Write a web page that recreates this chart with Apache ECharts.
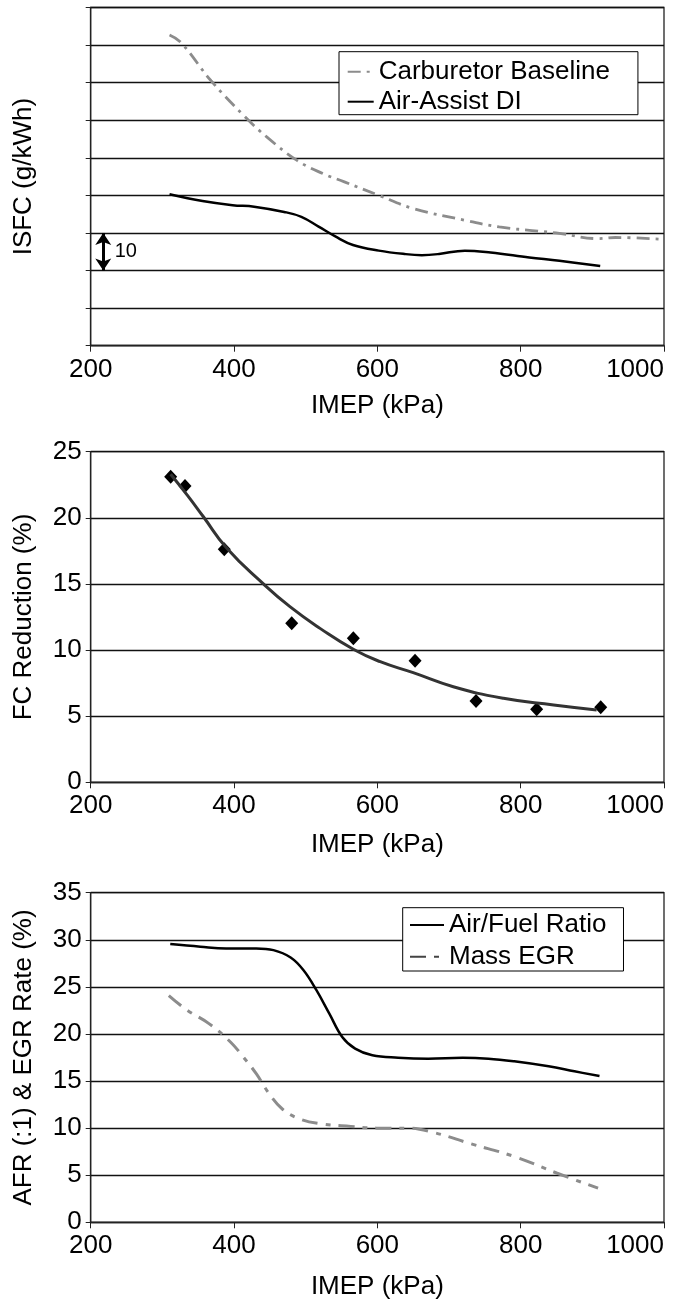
<!DOCTYPE html>
<html><head><meta charset="utf-8">
<script src="https://cdn.jsdelivr.net/npm/echarts@6/dist/echarts.min.js"></script>
<style>html,body{margin:0;padding:0;background:#fff}#c{width:673px;height:1301px}</style>
</head><body><div id="c"></div>
<script>
// ---- data ----
const imepTicks = [200, 400, 600, 800, 1000];

// Chart 1: ISFC (relative scale, one gridline = 10 g/kWh)
const carbImep = [310, 326, 368, 416, 446, 488, 524, 554, 602, 650, 722, 770, 824, 854, 908, 932, 1000];
const carbIsfc = [82.7, 80.7, 70.5, 60.8, 55.5, 49.3, 45.8, 43.6, 40.0, 36.5, 33.4, 31.6, 30.5, 29.9, 28.5, 28.8, 28.3];
const diImep = [310, 356, 398, 428, 470, 494, 518, 542, 566, 602, 638, 662, 686, 722, 758, 812, 854, 911];
const diIsfc = [40.3, 38.5, 37.4, 37.0, 35.6, 34.3, 31.7, 29.0, 26.8, 25.3, 24.4, 24.1, 24.4, 25.3, 24.8, 23.5, 22.6, 21.2];

// Chart 2: FC reduction (measured points and trend curve)
const fcImep = [311.6, 331.6, 386.4, 480.5, 566.5, 652.6, 737.7, 822.3, 911.7];
const fcRed = [23.1, 22.41, 17.62, 12.02, 10.89, 9.2, 6.15, 5.52, 5.67];
const trendImep = [311.6, 335, 357, 390, 441, 478, 520, 566.5, 604, 650, 706, 776, 846, 906];
const trendRed = [23.3, 21.7, 20.1, 17.7, 15.0, 13.28, 11.64, 10.06, 9.12, 8.29, 7.23, 6.35, 5.85, 5.47];

// Chart 3: AFR and EGR
const afrImep = [311, 353, 389, 431, 455, 479, 497, 515, 533, 551, 569, 593, 629, 671, 719, 755, 791, 839, 875, 910];
const afrVal = [29.54, 29.26, 29.08, 29.08, 28.9, 28.12, 26.77, 24.65, 22.16, 19.68, 18.44, 17.73, 17.48, 17.38, 17.48, 17.38, 17.09, 16.56, 16.03, 15.53];
const egrImep = [309, 335, 365, 395, 413, 431, 449, 467, 491, 521, 563, 599, 641, 677, 731, 791, 851, 908];
const egrVal = [24.08, 22.5, 21.1, 19.15, 17.55, 15.78, 13.65, 12.06, 11.0, 10.46, 10.18, 10.0, 10.0, 9.57, 8.33, 6.99, 5.21, 3.62];

// ---- chart ----
const pair = (xs, ys) => xs.map((x, i) => [x, ys[i]]);
const FONT = 'Liberation Sans, Arial, sans-serif';
const GRID_L = 90.7, GRID_W = 573.3;
const grids = [
  {left: GRID_L, top: 7.5, width: GRID_W, height: 338.2},
  {left: GRID_L, top: 451.7, width: GRID_W, height: 330.6},
  {left: GRID_L, top: 892.7, width: GRID_W, height: 329.6}
].map(g => Object.assign(g, {show: true, borderColor: '#222', borderWidth: 1.3,
  backgroundColor: 'transparent', containLabel: false, outerBoundsMode: 'none'}));

function xAxis(i, gap) {
  return {
    type: 'value', gridIndex: i, min: imepTicks[0], max: imepTicks[imepTicks.length - 1], interval: 200,
    name: 'IMEP (kPa)', nameLocation: 'middle', nameGap: gap,
    nameTextStyle: {fontFamily: FONT, fontSize: 26, color: '#000'},
    axisLine: {show: true, lineStyle: {color: '#222', width: 1.3}},
    axisTick: {show: true, length: 6, lineStyle: {color: '#222'}},
    axisLabel: {fontFamily: FONT, fontSize: 26, color: '#000', margin: 11, formatter: v => String(v),
      alignMaxLabel: 'right'},
    splitLine: {show: false}
  };
}
function yAxis(i, max, interval, name, showLabels) {
  return {
    type: 'value', gridIndex: i, min: 0, max: max, interval: interval,
    name: name, nameLocation: 'middle', nameGap: 54,
    nameTextStyle: {fontFamily: FONT, fontSize: 26, color: '#000'},
    axisLine: {show: true, lineStyle: {color: '#222', width: 1.3}},
    axisTick: {show: true, length: 5, lineStyle: {color: '#222'}},
    axisLabel: {show: showLabels, fontFamily: FONT, fontSize: 26, color: '#000', margin: 9},
    splitLine: {show: true, lineStyle: {color: '#111', width: 1.3}}
  };
}

const chart = echarts.init(document.getElementById('c'), null, {renderer: 'canvas'});
chart.setOption({
  animation: false,
  backgroundColor: '#fff',
  grid: grids,
  xAxis: [xAxis(0, 47), xAxis(1, 50), xAxis(2, 52)],
  yAxis: [
    yAxis(0, 90, 10, 'ISFC (g/kWh)', false),
    yAxis(1, 25, 5, 'FC Reduction (%)', true),
    yAxis(2, 35, 5, 'AFR (:1) & EGR Rate (%)', true)
  ],
  legend: [
    {
      data: ['Carburetor Baseline', 'Air-Assist DI'], orient: 'vertical', left: 339, top: 51.7,
      padding: [7, 28, 0, 7.7], itemGap: 4, itemWidth: 26, itemHeight: 14,
      itemStyle: {opacity: 0},
      backgroundColor: '#fff', borderColor: '#000', borderWidth: 1, borderRadius: 0,
      textStyle: {fontFamily: FONT, fontSize: 26, color: '#000', lineHeight: 26},
      selectedMode: false
    },
    {
      data: ['Air/Fuel Ratio', {name: 'Mass EGR', lineStyle: {color: '#444'}}], orient: 'vertical', left: 402.7, top: 907.7,
      padding: [4.3, 17, 1.3, 6.3], itemGap: 5.7, itemWidth: 34, itemHeight: 14,
      itemStyle: {opacity: 0},
      backgroundColor: '#fff', borderColor: '#000', borderWidth: 1, borderRadius: 0,
      textStyle: {fontFamily: FONT, fontSize: 26, color: '#000', lineHeight: 26},
      selectedMode: false
    }
  ],
  series: [
    {
      name: 'Carburetor Baseline', type: 'line', xAxisIndex: 0, yAxisIndex: 0,
      data: pair(carbImep, carbIsfc), smooth: 0.4, symbol: 'none', clip: true,
      itemStyle: {color: '#8c8c8c'},
      lineStyle: {color: '#8c8c8c', width: 2.8, type: [13, 6, 3, 6]}
    },
    {
      name: 'Air-Assist DI', type: 'line', xAxisIndex: 0, yAxisIndex: 0,
      data: pair(diImep, diIsfc), smooth: 0.4, symbol: 'none',
      itemStyle: {color: '#000'},
      lineStyle: {color: '#000', width: 2.5, type: 'solid'},
      markLine: {
        silent: true, symbol: ['arrow', 'arrow'], symbolSize: [12, 12],
        label: {show: false},
        lineStyle: {color: '#000', width: 3, type: 'solid'},
        emphasis: {disabled: true},
        data: [[{coord: [217.5, 30]}, {coord: [217.5, 20]}]]
      },
      markPoint: {
        silent: true,
        data: [{coord: [249, 25], symbol: 'rect', symbolSize: [1, 1], itemStyle: {color: 'rgba(0,0,0,0)'},
          label: {show: true, formatter: '10', position: 'inside', fontFamily: FONT, fontSize: 20, color: '#000'}}]
      }
    },
    {
      name: 'FC Trend', type: 'line', xAxisIndex: 1, yAxisIndex: 1,
      data: pair(trendImep, trendRed), smooth: 0.5, symbol: 'none',
      lineStyle: {color: '#333', width: 3}
    },
    {
      name: 'FC Reduction', type: 'scatter', xAxisIndex: 1, yAxisIndex: 1,
      data: pair(fcImep, fcRed), symbol: 'diamond', symbolSize: [13, 14],
      itemStyle: {color: '#000', opacity: 1}
    },
    {
      name: 'Air/Fuel Ratio', type: 'line', xAxisIndex: 2, yAxisIndex: 2,
      data: pair(afrImep, afrVal), smooth: 0.4, symbol: 'none',
      itemStyle: {color: '#000'},
      lineStyle: {color: '#000', width: 2.5, type: 'solid'}
    },
    {
      name: 'Mass EGR', type: 'line', xAxisIndex: 2, yAxisIndex: 2,
      data: pair(egrImep, egrVal), smooth: 0.4, symbol: 'none',
      itemStyle: {color: '#8c8c8c'},
      lineStyle: {color: '#8c8c8c', width: 3, type: [16, 8, 5, 8]}
    }
  ]
});
</script>
</body></html>
